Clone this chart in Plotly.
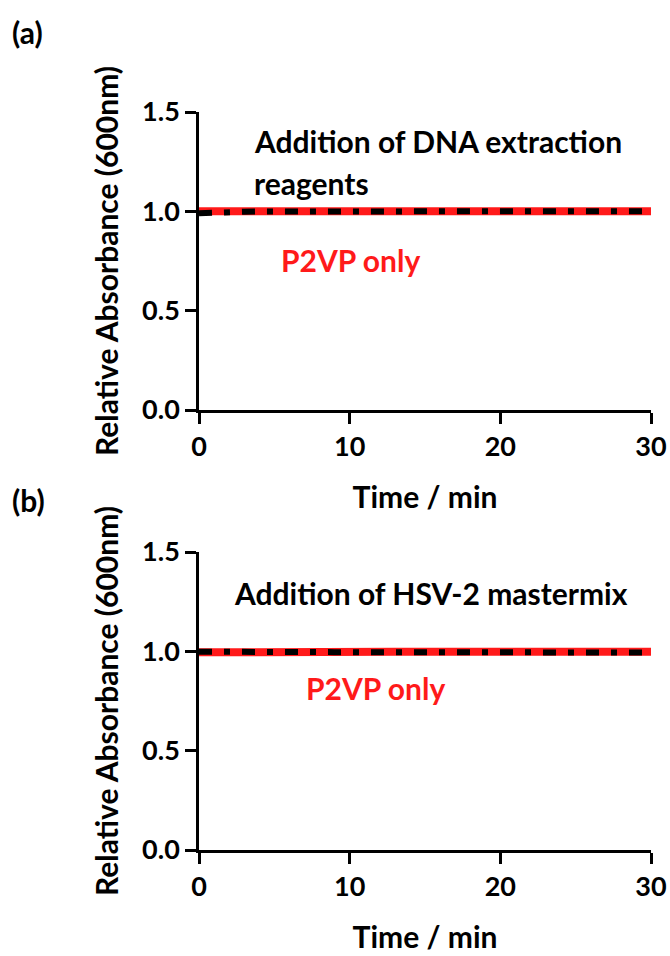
import plotly.graph_objects as go

time_min = list(range(0, 31))
# Panel (a)
p2vp_a = [1.0, 1.0, 1.0, 1.0, 1.0, 1.0, 1.0, 1.0, 1.0, 1.0, 1.0, 1.0, 1.0, 1.0, 1.0, 1.0,
          1.0, 1.0, 1.0, 1.0, 1.0, 1.0, 1.0, 1.0, 1.0, 1.0, 1.0, 1.0, 1.0, 1.0, 1.0]
reag_a = [0.99, 0.995, 0.997, 0.998, 0.999, 0.999, 1.0, 1.0, 1.0, 0.999, 1.0, 1.0, 1.0, 1.001, 1.001, 1.0,
          1.001, 1.002, 1.001, 1.0, 0.998, 0.999, 1.001, 0.998, 0.999, 1.0, 1.0, 1.001, 1.0, 1.0, 1.001]
# Panel (b)
p2vp_b = [0.995, 0.996, 0.997, 0.998, 0.998, 0.998, 0.998, 0.998, 0.998, 0.998, 0.998, 0.998, 0.998, 0.998, 0.998, 0.998,
          1.0, 1.002, 1.003, 1.002, 1.0, 0.998, 0.999, 0.998, 0.998, 0.997, 0.997, 0.997, 0.996, 0.997, 0.998]
reag_b = [0.998, 0.997, 0.996, 0.997, 0.996, 0.996, 0.996, 0.996, 0.996, 0.996, 0.996, 0.996, 0.995, 0.995, 0.996, 0.995,
          0.996, 0.996, 0.996, 0.996, 0.996, 0.996, 0.996, 0.992, 0.993, 0.994, 0.994, 0.994, 0.994, 0.995, 0.994]

x_ticks = [0, 10, 20, 30]
y_ticks = [0.0, 0.5, 1.0, 1.5]
y_tick_text = ["0.0", "0.5", "1.0", "1.5"]

FONT = "Lato"
RED = "#ff1a1a"

fig = go.Figure()
dash_pattern = "13px,12px,6px,12px"
for xa, ya, p, r in [("x", "y", p2vp_a, reag_a), ("x2", "y2", p2vp_b, reag_b)]:
    fig.add_trace(go.Scatter(x=time_min, y=p, mode="lines", xaxis=xa, yaxis=ya,
                             line=dict(color=RED, width=8), showlegend=False))
    fig.add_trace(go.Scatter(x=time_min, y=r, mode="lines", xaxis=xa, yaxis=ya,
                             line=dict(color="black", width=6, dash=dash_pattern), showlegend=False))

axis_common = dict(showline=True, linecolor="black", linewidth=2.5, ticks="outside",
                   ticklen=11, tickwidth=2.5, tickcolor="black", showgrid=False, zeroline=False,
                   automargin=False,
                   tickfont=dict(family=FONT, size=27, color="black", weight="bold"))

x0, x1 = 199 / 670, 651 / 670
xt = dict(text="<b>Time / min</b>", font=dict(family=FONT, size=30, color="black"), standoff=26)
yt = dict(text="<b>Relative Absorbance (600nm)</b>", font=dict(family=FONT, size=30, color="black"))
fig.update_layout(
    width=670, height=956, margin=dict(l=0, r=0, t=0, b=0, autoexpand=False),
    paper_bgcolor="white", plot_bgcolor="white",
    xaxis=dict(domain=[x0, x1], range=[0, 30], tickvals=x_ticks, anchor="y", title=xt, **axis_common),
    yaxis=dict(domain=[1 - 410 / 956, 1 - 112 / 956], range=[0, 1.5], tickvals=y_ticks, ticktext=y_tick_text,
               anchor="x", title=yt, **axis_common),
    xaxis2=dict(domain=[x0, x1], range=[0, 30], tickvals=x_ticks, anchor="y2", title=xt, **axis_common),
    yaxis2=dict(domain=[1 - 850 / 956, 1 - 552 / 956], range=[0, 1.5], tickvals=y_ticks, ticktext=y_tick_text,
                anchor="x2", title=yt, **axis_common),
)

ann = []
def txt(text, x, y, xref, yref, color="black", size=30, xanchor="left"):
    ann.append(dict(text=f"<b>{text}</b>", x=x, y=y, xref=xref, yref=yref, showarrow=False,
                    xanchor=xanchor, yanchor="middle", font=dict(family=FONT, size=size, color=color)))

txt("Addition of DNA extraction", 3.5, 1.354, "x", "y")
txt("reagents", 3.5, 1.143, "x", "y")
txt("P2VP only", 5.3, 0.755, "x", "y", color=RED)
txt("Addition of HSV-2 mastermix", 2.2, 1.294, "x2", "y2")
txt("P2VP only", 7.0, 0.815, "x2", "y2", color=RED)
txt("(a)", 10 / 670, 1 - 32 / 956, "paper", "paper")
txt("(b)", 10 / 670, 1 - 500 / 956, "paper", "paper")
fig.update_layout(annotations=ann)

fig.write_html("out.html", config={"displayModeBar": False},
               post_script="document.body.style.margin='0px';")
